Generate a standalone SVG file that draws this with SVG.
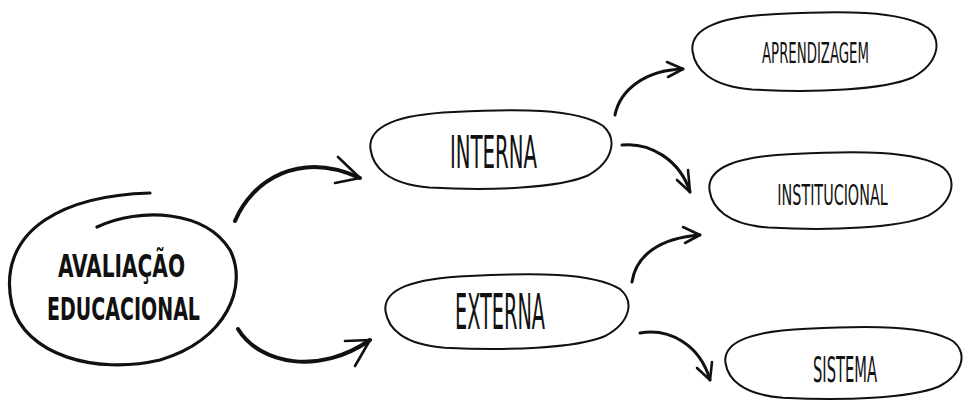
<svg xmlns="http://www.w3.org/2000/svg" xmlns:xlink="http://www.w3.org/1999/xlink" width="964" height="401" viewBox="0 0 964 401">
<style>
.blob{fill:none;stroke:#111;stroke-width:2;stroke-linejoin:round}
.main{fill:none;stroke:#111;stroke-width:3.2;stroke-linecap:round}
.arr{fill:none;stroke:#111;stroke-linecap:round;stroke-linejoin:round}
.big{stroke-width:4}
.small{stroke-width:3}
.head{fill:none;stroke:#111;stroke-width:2.6;stroke-linecap:round;stroke-linejoin:round}
text{font-family:"Liberation Sans Narrow","DejaVu Sans Condensed","Liberation Sans",sans-serif;fill:#111;text-anchor:middle}
.t1{font-size:32px;font-weight:bold}
.t2{font-size:44px}
.t3{font-size:29px}
</style>
<defs>
<path id="shape" vector-effect="non-scaling-stroke" d="M1,50 C0,22 12,8 35,5 C60,1 85,0 96,22 C102,38 100,65 90,82 C78,98 50,101 25,97 C8,93 2,72 1,50 Z"/>
</defs>
<rect width="964" height="401" fill="#fff"/>
<g id="avaliacao">
<path class="main" d="M97,227 C140,207 205,210 230,250 C248,285 228,340 160,360 C95,375 25,355 12,305 C4,270 15,240 45,220 C75,200 115,194 150,193"/>
<text class="t1" x="121.5" y="277" textLength="127" lengthAdjust="spacingAndGlyphs">AVALIAÇÃO</text>
<text class="t1" x="123.5" y="320" textLength="153" lengthAdjust="spacingAndGlyphs">EDUCACIONAL</text>
</g>
<g id="interna">
<use href="#shape" class="blob" transform="translate(368 108) scale(2.45 0.82)"/>
<text class="t2" x="493.5" y="168" textLength="87" lengthAdjust="spacingAndGlyphs">INTERNA</text>
</g>
<g id="externa">
<use href="#shape" class="blob" transform="translate(383 272) scale(2.47 0.78)"/>
<text class="t2" x="500" y="329" textLength="90" lengthAdjust="spacingAndGlyphs" style="font-size:50px">EXTERNA</text>
</g>
<g id="aprendizagem">
<use href="#shape" class="blob" transform="translate(690 10) scale(2.48 0.82)"/>
<text class="t3" transform="translate(815.5 63) scale(0.51 1)">APRENDIZAGEM</text>
</g>
<g id="institucional">
<use href="#shape" class="blob" transform="translate(707 150) scale(2.46 0.80)"/>
<text class="t3" transform="translate(832.5 205) scale(0.55 1)">INSTITUCIONAL</text>
</g>
<g id="sistema">
<use href="#shape" class="blob" transform="translate(723 325) scale(2.40 0.75)"/>
<text class="t3" x="845" y="382" textLength="64" lengthAdjust="spacingAndGlyphs" style="font-size:36px">SISTEMA</text>
</g>
<g id="connectors">
<path class="arr big" d="M235,221 C252,180 300,150 360,178"/>
<path class="head" d="M338,157 L360,178 L335,183"/>
<path class="arr big" d="M238,329 C260,365 320,375 370,340"/>
<path class="head" d="M345,341 L370,340 L355,366"/>
<path class="arr small" d="M615,115 C620,90 645,70 683,69"/>
<path class="head" d="M667,62 L683,69 L668,77"/>
<path class="arr small" d="M622,145 C650,142 680,160 690,192"/>
<path class="head" d="M677,180 L690,192 L688,170"/>
<path class="arr small" d="M632,282 C636,255 660,238 700,235"/>
<path class="head" d="M683,227 L700,235 L685,243"/>
<path class="arr small" d="M640,333 C670,328 700,345 710,380"/>
<path class="head" d="M697,368 L710,380 L712,362"/>
</g>
</svg>
